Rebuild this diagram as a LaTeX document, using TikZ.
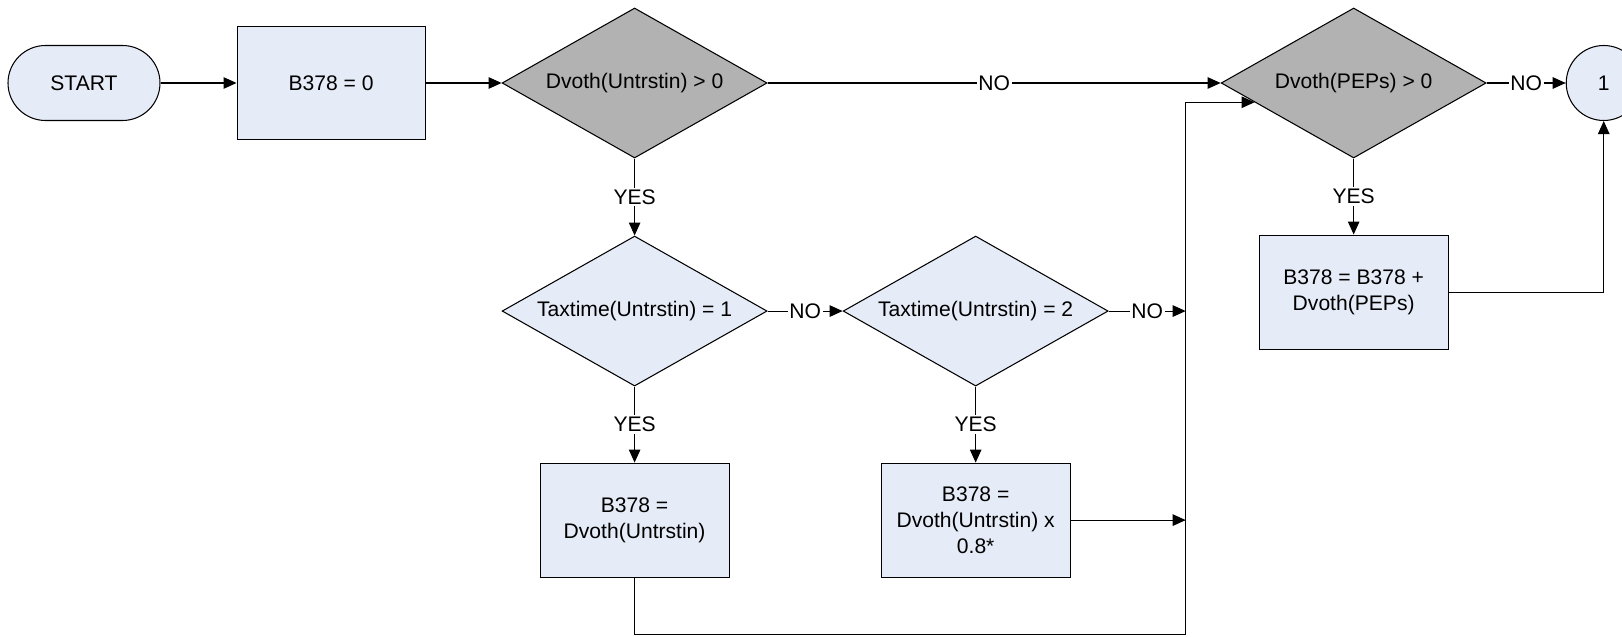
\documentclass[tikz,border=0pt]{standalone}
\usepackage{fontspec}
\setmainfont{Liberation Sans}
\usepackage{xcolor}
\usepackage{tikz}
\usetikzlibrary{positioning, arrows.meta, shapes.geometric}
\definecolor{boxblue}{RGB}{230,236,247}
\definecolor{decgray}{RGB}{178,178,178}

\begin{document}
\begin{tikzpicture}[
  node distance=1.52cm and 1.52cm,
  every node/.style={align=center, font=\fontsize{12}{14.6}\selectfont},
  terminal/.style={rectangle, draw, fill=boxblue, line width=0.6pt, rounded corners=0.75cm, minimum width=3.04cm, minimum height=1.5cm},
  block/.style={rectangle, draw, fill=boxblue, line width=0.6pt, minimum width=3.78cm, minimum height=2.28cm},
  decision/.style={diamond, draw, fill=boxblue, line width=0.6pt, shape aspect=1.77, inner sep=0pt, minimum width=5.3cm, minimum height=3cm},
  test/.style={decision, fill=decgray},
  offpage/.style={circle, draw, fill=boxblue, line width=0.6pt, minimum size=1.5cm},
  arrow/.style={-{Triangle[length=0.26cm, width=0.23cm]}, line width=0.6pt},
  lbl/.style={fill=white, inner sep=1pt}
]
\useasboundingbox (0,0) rectangle (32.44,-12.74);

%% Top Row
\node[terminal] (start) at (1.68,-1.66) {START};
\node[block, minimum width=3.76cm, minimum height=2.26cm, right=of start] (init) {B378 = 0};
\node[test, right=of init] (untr) {Dvoth(Untrstin) > 0};
\node[test, right=9.06cm of untr] (peps) {Dvoth(PEPs) > 0};
\node[offpage, right=1.58cm of peps] (one) {1};

%% Taxtime Branch
\node[decision, below=1.54cm of untr] (tax1) {Taxtime(Untrstin) = 1};
\node[decision, right=1.5cm of tax1] (tax2) {Taxtime(Untrstin) = 2};
\node[block, below=of tax1] (full) {B378 =\\Dvoth(Untrstin)};
\node[block, below=of tax2] (part) {B378 =\\Dvoth(Untrstin) x\\0.8*};
\coordinate[right=1.54cm of tax2] (join);

%% PEPs Branch
\node[block, below=of peps] (add) {B378 = B378 +\\Dvoth(PEPs)};

%% Connections
\draw[arrow] (start) -- (init);
\draw[arrow] (init) -- (untr);
\draw[arrow] (untr) -- node[lbl] {NO} (peps);
\draw[arrow] (peps) -- node[lbl] {NO} (one);
\draw[arrow] (untr) -- node[lbl] {YES} (tax1);
\draw[arrow] (tax1) -- node[lbl] {NO} (tax2);
\draw[arrow] (tax2) -- node[lbl] {NO} (join);
\draw[arrow] (tax1) -- node[lbl] {YES} (full);
\draw[arrow] (tax2) -- node[lbl] {YES} (part);
\draw[arrow] (part) -- (part -| join);
\draw[arrow] (full.south) -- ++(0,-1.13) -| (join) |- (peps.191.65);
\draw[arrow] (peps) -- node[lbl] {YES} (add);
\draw[arrow] (add) -| (one);

\end{tikzpicture}
\end{document}
